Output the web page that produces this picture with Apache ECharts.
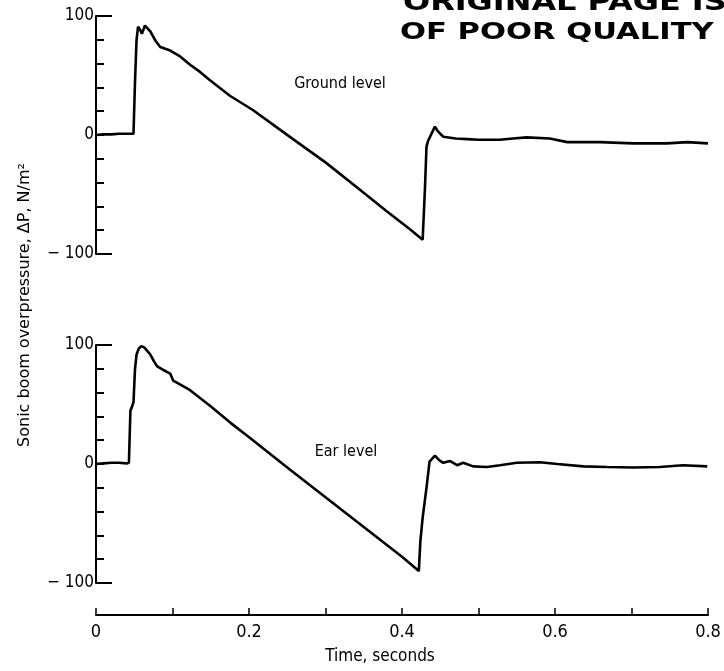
<!DOCTYPE html>
<html><head><meta charset="utf-8">
<script src="https://cdn.jsdelivr.net/npm/echarts@6/dist/echarts.min.js"></script>
<style>html,body{margin:0;padding:0;background:#fff}#c{width:724px;height:671px}</style>
</head><body><div id="c"></div>
<script>
// Time (s) and overpressure (N/m^2)
const groundT = [0, 0.010, 0.020, 0.030, 0.040, 0.049, 0.051, 0.053, 0.055, 0.058, 0.060, 0.064, 0.071, 0.078, 0.084, 0.097, 0.110, 0.123, 0.136, 0.149, 0.175, 0.205, 0.235, 0.263, 0.300, 0.345, 0.380, 0.410, 0.427, 0.430, 0.432, 0.434, 0.443, 0.447, 0.454, 0.470, 0.485, 0.500, 0.528, 0.545, 0.563, 0.593, 0.616, 0.659, 0.702, 0.746, 0.773, 0.800];
const groundP = [0, 0.5, 0.5, 1, 1, 1, 45, 80, 91, 88, 85, 92, 87, 79, 74, 71, 66, 59, 53, 46, 33, 21, 7, -6, -23, -46, -64, -79, -88, -45, -10, -5, 7, 3, -1.5, -3, -3.5, -4, -4, -3, -2, -3, -6, -6, -7, -7, -6, -7];
const earT = [0, 0.010, 0.020, 0.030, 0.040, 0.043, 0.045, 0.047, 0.049, 0.051, 0.053, 0.056, 0.059, 0.063, 0.067, 0.071, 0.076, 0.080, 0.088, 0.097, 0.101, 0.123, 0.149, 0.175, 0.201, 0.250, 0.300, 0.350, 0.400, 0.422, 0.424, 0.427, 0.432, 0.436, 0.443, 0.449, 0.454, 0.463, 0.472, 0.480, 0.493, 0.511, 0.528, 0.550, 0.580, 0.603, 0.637, 0.668, 0.702, 0.737, 0.767, 0.799];
const earP = [0, 0.5, 1, 1, 0.5, 1, 45, 48, 52, 80, 92, 97, 99, 98, 95, 92, 86, 82, 79, 76, 70, 62, 49, 35, 22, -3, -28, -53, -78, -90, -65, -45, -20, 2, 7, 3, 1, 2.5, -1, 1, -2, -2.5, -1, 1, 1.5, 0, -2, -2.5, -3, -2.5, -1, -2];
const panelLabels = ['Ground level', 'Ear level'];
const yTickLabels = {'100': '100', '0': '0', '-100': '\u2212 100'};
const xTickLabels = {'0': '0', '0.2': '0.2', '0.4': '0.4', '0.6': '0.6', '0.8': '0.8'};
const yTitle = 'Sonic boom overpressure, \u0394P, N/m\u00B2';
const xTitle = 'Time, seconds';
const stampLines = ['ORIGINAL PAGE IS', 'OF POOR QUALITY'];

const COND = "'DejaVu Sans Condensed','Liberation Sans Narrow','DejaVu Sans',sans-serif";
const INK = '#000';

function yAxisMain(g) {
  return {
    gridIndex: g, type: 'value', min: -100, max: 100, interval: 20,
    axisLine: {show: true, lineStyle: {color: INK, width: 2}},
    axisTick: {show: true, inside: true, length: 8, lineStyle: {color: INK, width: 2}},
    axisLabel: {color: INK, fontFamily: COND, fontSize: 17, margin: 2,
      formatter: v => yTickLabels[String(Math.round(v))] || ''},
    splitLine: {show: false}
  };
}
function yAxisLong(g) {
  return {
    gridIndex: g, type: 'value', min: -100, max: 100, interval: 200, position: 'left',
    axisLine: {show: false},
    axisTick: {show: true, inside: true, length: 16, lineStyle: {color: INK, width: 2}},
    axisLabel: {show: false}, splitLine: {show: false}
  };
}

const chart = echarts.init(document.getElementById('c'), null, {renderer: 'canvas'});
chart.setOption({
  backgroundColor: '#fff',
  animation: false,
  grid: [
    {left: 96, top: 16, width: 612, height: 238},
    {left: 96, top: 345, width: 612, height: 238}
  ],
  xAxis: [
    {gridIndex: 0, type: 'value', min: 0, max: 0.8, show: false},
    {gridIndex: 1, type: 'value', min: 0, max: 0.8, interval: 0.1, offset: 32,
      axisLine: {show: true, onZero: false, lineStyle: {color: INK, width: 2}},
      axisTick: {show: true, inside: true, length: 7, lineStyle: {color: INK, width: 1.5}},
      axisLabel: {color: INK, fontFamily: COND, fontSize: 18, margin: 8,
        formatter: v => xTickLabels[String(Math.round(v * 10) / 10)] || ''},
      splitLine: {show: false}
    }
  ],
  yAxis: [yAxisMain(0), yAxisLong(0), yAxisMain(1), yAxisLong(1)],
  series: [
    {type: 'line', xAxisIndex: 0, yAxisIndex: 0, showSymbol: false, symbol: 'none',
      lineStyle: {color: INK, width: 2.6}, data: groundT.map((t, i) => [t, groundP[i]])},
    {type: 'line', xAxisIndex: 1, yAxisIndex: 2, showSymbol: false, symbol: 'none',
      lineStyle: {color: INK, width: 2.6}, data: earT.map((t, i) => [t, earP[i]])}
  ],
  graphic: [
    {type: 'text', x: 340, y: 84, style: {text: panelLabels[0], fill: INK, font: '16px ' + COND, textAlign: 'center', textVerticalAlign: 'middle'}},
    {type: 'text', x: 346, y: 452, style: {text: panelLabels[1], fill: INK, font: '16px ' + COND, textAlign: 'center', textVerticalAlign: 'middle'}},
    {type: 'text', x: 380, y: 657, style: {text: xTitle, fill: INK, font: '17px ' + COND, textAlign: 'center', textVerticalAlign: 'middle'}},
    {type: 'text', x: 25, y: 305, rotation: Math.PI / 2, style: {text: yTitle, fill: INK, font: '16px "DejaVu Sans", sans-serif', textAlign: 'center', textVerticalAlign: 'middle'}},
    {type: 'text', x: 403, y: 4, scaleX: 1.33, style: {text: stampLines[0], fill: INK, font: 'bold 24px "DejaVu Sans", sans-serif', textAlign: 'left', textVerticalAlign: 'middle'}},
    {type: 'text', x: 400, y: 33, scaleX: 1.33, style: {text: stampLines[1], fill: INK, font: 'bold 23px "DejaVu Sans", sans-serif', textAlign: 'left', textVerticalAlign: 'middle'}}
  ]
});
</script></body></html>
